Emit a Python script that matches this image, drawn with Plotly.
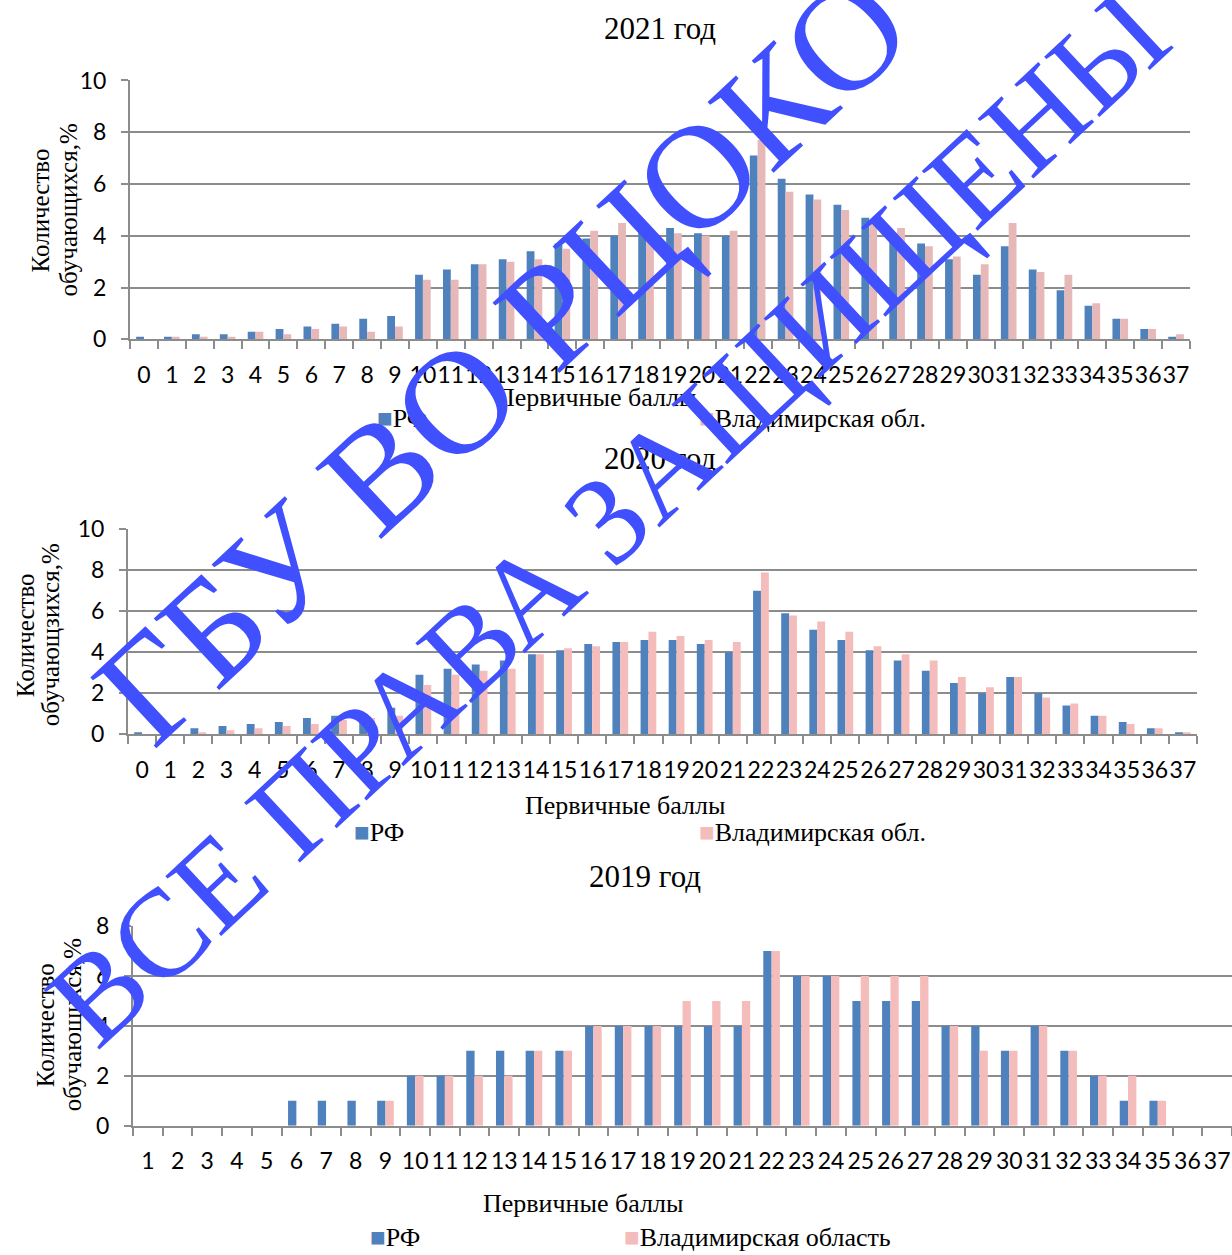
import plotly.graph_objects as go

W, H = 1232, 1255

# ---------------- data ----------------
cats_2021 = [str(i) for i in range(0, 38)]
rf_2021 = [0.1, 0.1, 0.2, 0.2, 0.3, 0.4, 0.5, 0.6, 0.8, 0.9, 2.5, 2.7, 2.9, 3.1, 3.4, 3.7, 3.9, 4.0, 4.2,
           4.3, 4.1, 4.0, 7.1, 6.2, 5.6, 5.2, 4.7, 4.1, 3.7, 3.1, 2.5, 3.6, 2.7, 1.9, 1.3, 0.8, 0.4, 0.1]
vl_2021 = [0.0, 0.1, 0.1, 0.1, 0.3, 0.2, 0.4, 0.5, 0.3, 0.5, 2.3, 2.3, 2.9, 3.0, 3.1, 3.5, 4.2, 4.5, 4.2,
           4.1, 4.0, 4.2, 7.7, 5.7, 5.4, 5.0, 4.6, 4.3, 3.6, 3.2, 2.9, 4.5, 2.6, 2.5, 1.4, 0.8, 0.4, 0.2]

cats_2020 = [str(i) for i in range(0, 38)]
rf_2020 = [0.1, 0.2, 0.3, 0.4, 0.5, 0.6, 0.8, 0.9, 1.0, 1.3, 2.9, 3.2, 3.4, 3.6, 3.9, 4.1, 4.4, 4.5, 4.6,
           4.6, 4.4, 4.0, 7.0, 5.9, 5.1, 4.6, 4.1, 3.6, 3.1, 2.5, 2.0, 2.8, 2.0, 1.4, 0.9, 0.6, 0.3, 0.1]
vl_2020 = [0.0, 0.0, 0.1, 0.2, 0.3, 0.4, 0.5, 0.7, 0.8, 0.9, 2.4, 2.9, 3.1, 3.2, 3.9, 4.2, 4.3, 4.5, 5.0,
           4.8, 4.6, 4.5, 7.9, 5.8, 5.5, 5.0, 4.3, 3.9, 3.6, 2.8, 2.3, 2.8, 1.8, 1.5, 0.9, 0.5, 0.3, 0.05]

cats_2019 = [str(i) for i in range(1, 38)]
rf_2019 = [0, 0, 0, 0, 0, 1, 1, 1, 1, 2, 2, 3, 3, 3, 3, 4, 4, 4, 4, 4, 4, 7, 6, 6, 5, 5, 5, 4, 4, 3, 4, 3,
           2, 1, 1, 0, 0]
vl_2019 = [0, 0, 0, 0, 0, 0, 0, 0, 1, 2, 2, 2, 2, 3, 3, 4, 4, 4, 5, 5, 5, 7, 6, 6, 6, 6, 6, 4, 3, 3, 4, 3,
           2, 2, 1, 0, 0]

titles = ["2021 год", "2020 год", "2019 год"]
ytitle_line1 = ["Количество", "Количество", "Количество"]
ytitle_line2 = ["обучающихся,%", "обучающзихся,%", "обучающихся,%"]
xtitle = "Первичные баллы"
rf_name = "РФ"
vl_names = ["Владимирская обл.", "Владимирская обл.", "Владимирская область"]
watermark = ["ГБУ ВО РЦОКО", "ВСЕ ПРАВА ЗАЩИЩЕНЫ"]

# ---------------- styles ----------------
BLUE = "#4F81BD"
PINKS = ["#E6B9B8", "#F5BCBC", "#F5BCBC"]
GRID = "#8C8C8C"
SERIF = "Liberation Serif"
SANS = "Lato"
WM = "#4050FF"


def px(x):
    return x / W


def py(y):
    # vertical placement (pixels from top) -> paper fraction, with small calibration
    yc = (y - 14.5) / 0.978
    return 1 - yc / H


# plot boxes in pixels: (left, right, top, bottom)
boxes = [(130, 1190, 80, 339), (128, 1197, 529, 734), (133, 1232, 925.7, 1125.7)]
yranges = [[0, 10], [0, 10], [0, 8]]

fig = go.Figure()
datasets = [(cats_2021, rf_2021, vl_2021), (cats_2020, rf_2020, vl_2020), (cats_2019, rf_2019, vl_2019)]
for i, (cats, rf, vl) in enumerate(datasets):
    sfx = "" if i == 0 else str(i + 1)
    fig.add_trace(go.Bar(x=cats, y=rf, name=rf_name, marker=dict(color=BLUE, line=dict(width=0)),
                         xaxis="x" + sfx, yaxis="y" + sfx, showlegend=False))
    fig.add_trace(go.Bar(x=cats, y=vl, name=vl_names[i], marker=dict(color=PINKS[i], line=dict(width=0)),
                         xaxis="x" + sfx, yaxis="y" + sfx, showlegend=False))

layout_axes = {}
for i, (l, r, t, b) in enumerate(boxes):
    sfx = "" if i == 0 else str(i + 1)
    layout_axes["xaxis" + sfx] = dict(
        domain=[px(l), min(px(r), 1.0)], anchor="y" + sfx, type="category",
        categoryorder="array", categoryarray=datasets[i][0],
        tickmode="linear", tick0=0, dtick=1,
        showline=True, linecolor=GRID, linewidth=2,
        ticks="outside", tickson="boundaries", ticklen=8, tickwidth=2, tickcolor=GRID,
        tickangle=0, tickfont=dict(family=SANS, size=23, color="black"),
        ticklabelstandoff=14, showgrid=False, zeroline=False, fixedrange=True,
    )
    layout_axes["yaxis" + sfx] = dict(
        domain=[py(b), py(t)], anchor="x" + sfx, range=yranges[i], dtick=2,
        showgrid=True, gridcolor=GRID, gridwidth=2,
        showline=True, linecolor=GRID, linewidth=2,
        ticks="outside", ticklen=7, tickwidth=2, tickcolor=GRID,
        tickfont=dict(family=SANS, size=23, color="black"),
        ticklabelstandoff=10, zeroline=False, fixedrange=True,
    )

ann = []
# chart titles
for txt, (x, y) in zip(titles, [(660, 28), (660, 458), (645, 876)]):
    ann.append(dict(text=txt, x=px(x), y=py(y), xref="paper", yref="paper", showarrow=False,
                    xanchor="center", yanchor="middle", font=dict(family=SERIF, size=31, color="black")))
# y titles (two lines placed separately)
for l1, l2, (x1, x2, y) in zip(ytitle_line1, ytitle_line2, [(40, 68, 210), (25, 50, 635), (45, 72, 1025)]):
    for txt, x in ((l1, x1), (l2, x2)):
        ann.append(dict(text=txt, x=px(x), y=py(y), xref="paper", yref="paper", showarrow=False,
                        textangle=-90, xanchor="center", yanchor="middle",
                        font=dict(family=SERIF, size=25, color="black")))
# x titles
for (x, y) in [(596, 397), (625, 805), (583, 1203)]:
    ann.append(dict(text=xtitle, x=px(x), y=py(y), xref="paper", yref="paper", showarrow=False,
                    xanchor="center", yanchor="middle", font=dict(family=SERIF, size=26, color="black")))
# legends
leg_pos = [((375, 418), (697, 418)), ((352, 832), (697, 832)), ((368, 1237), (622, 1237))]
sq = "<span style='color:{c}'>■</span>"
for i, ((x1, y1), (x2, y2)) in enumerate(leg_pos):
    ann.append(dict(text=sq.format(c=BLUE) + rf_name, x=px(x1), y=py(y1),
                    xref="paper", yref="paper", showarrow=False, xanchor="left", yanchor="middle",
                    font=dict(family=SERIF, size=26, color="black")))
    ann.append(dict(text=sq.format(c=PINKS[i]) + vl_names[i], x=px(x2), y=py(y2),
                    xref="paper", yref="paper", showarrow=False, xanchor="left", yanchor="middle",
                    font=dict(family=SERIF, size=26, color="black")))
# watermark
for txt, (x, y), fs in zip(watermark, [(502, 358), (608, 518)], [148, 125]):
    ann.append(dict(text=txt, x=px(x), y=py(y), xref="paper", yref="paper", showarrow=False,
                    textangle=-43, xanchor="center", yanchor="middle",
                    font=dict(family=SERIF, size=fs, color=WM)))

fig.update_layout(
    width=W, height=H, margin=dict(l=0, r=0, t=0, b=0),
    paper_bgcolor="white", plot_bgcolor="white",
    barmode="group", bargap=0.44, bargroupgap=0,
    annotations=ann, showlegend=False,
    font=dict(family=SERIF),
    **layout_axes,
)

fig.write_html("out.html", config={"displayModeBar": False})

with open("out.html", "r", encoding="utf-8") as f:
    html = f.read()
html = html.replace("<head>", "<head><style>html,body{margin:0;padding:0;overflow:hidden;}</style>", 1)
with open("out.html", "w", encoding="utf-8") as f:
    f.write(html)
